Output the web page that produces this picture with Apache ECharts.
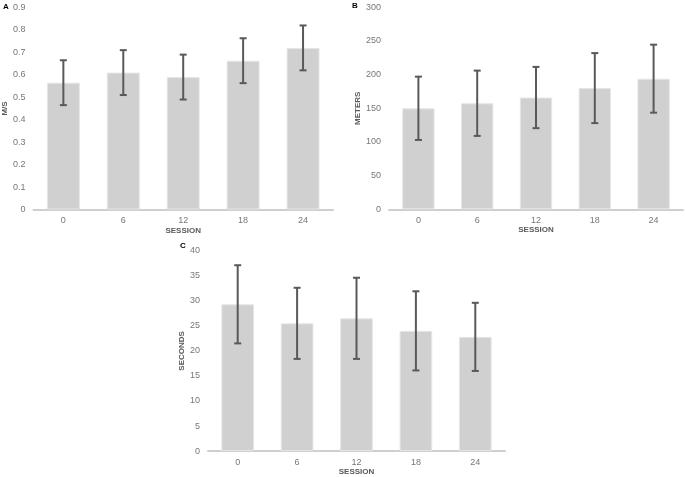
<!DOCTYPE html>
<html><head><meta charset="utf-8">
<script src="https://cdn.jsdelivr.net/npm/echarts@6/dist/echarts.min.js"></script>
<style>html,body{margin:0;padding:0;background:#fff}#c{width:685px;height:477px}</style>
</head><body><div id="c"></div>
<script>
var sessions = ['0', '6', '12', '18', '24'];
var speedMean = [0.565, 0.61, 0.59, 0.663, 0.72];
var speedErr = [0.1, 0.1, 0.1, 0.1, 0.1];
var distMean = [150, 157.5, 166, 180, 194];
var distErr = [47, 48.5, 45.5, 52, 50.5];
var timeMean = [29.3, 25.5, 26.5, 24, 22.8];
var timeErr = [7.8, 7.1, 8.1, 7.9, 6.8];

var font = 'Liberation Sans, Arial, sans-serif';
var panels = [
  {letter: 'A', yName: 'M/S', mean: speedMean, err: speedErr, max: 0.9, interval: 0.1,
   grid: {left: 33, top: 7.5, width: 300, height: 202}, nameGap: 24, lx: 3, ly: 3},
  {letter: 'B', yName: 'METERS', mean: distMean, err: distErr, max: 300, interval: 50,
   grid: {left: 389, top: 7.3, width: 294, height: 202}, nameGap: 26, lx: 352, ly: 2},
  {letter: 'C', yName: 'SECONDS', mean: timeMean, err: timeErr, max: 40, interval: 5,
   grid: {left: 208, top: 250.7, width: 297, height: 201.6}, nameGap: 21, lx: 180, ly: 242}
];

var grids = [], xAxes = [], yAxes = [], series = [], graphics = [];
panels.forEach(function (p, i) {
  grids.push(p.grid);
  xAxes.push({
    type: 'category', gridIndex: i, data: sessions,
    axisLine: {lineStyle: {color: '#cfcfcf', width: 2}},
    axisTick: {show: false},
    axisLabel: {color: '#777777', fontSize: 9, fontFamily: font, margin: 7},
    name: 'SESSION', nameLocation: 'middle', nameGap: 15,
    nameTextStyle: {color: '#595959', fontSize: 8, fontWeight: 'bold', fontFamily: font}
  });
  yAxes.push({
    type: 'value', gridIndex: i, min: 0, max: p.max, interval: p.interval,
    axisLine: {show: false}, axisTick: {show: false}, splitLine: {show: false},
    axisLabel: {color: '#777777', fontSize: 9, fontFamily: font, margin: 8},
    name: p.yName, nameLocation: 'middle', nameGap: p.nameGap, nameRotate: 90,
    nameTextStyle: {color: '#595959', fontSize: 8, fontWeight: 'bold', fontFamily: font}
  });
  series.push({
    type: 'bar', xAxisIndex: i, yAxisIndex: i, data: p.mean, barWidth: '55%',
    itemStyle: {color: '#d0d0d0', borderColor: '#e6e6e6', borderWidth: 1},
    silent: true
  });
  var errData = p.mean.map(function (m, k) { return [k, m - p.err[k], m + p.err[k]]; });
  series.push({
    type: 'custom', xAxisIndex: i, yAxisIndex: i, data: errData, z: 10, silent: true,
    renderItem: function (params, api) {
      var lo = api.coord([api.value(0), api.value(1)]);
      var hi = api.coord([api.value(0), api.value(2)]);
      var hw = 3.5;
      var st = {stroke: '#595959', lineWidth: 2};
      return {type: 'group', children: [
        {type: 'line', shape: {x1: lo[0], y1: lo[1], x2: hi[0], y2: hi[1]}, style: st},
        {type: 'line', shape: {x1: hi[0] - hw, y1: hi[1], x2: hi[0] + hw, y2: hi[1]}, style: st},
        {type: 'line', shape: {x1: lo[0] - hw, y1: lo[1], x2: lo[0] + hw, y2: lo[1]}, style: st}
      ]};
    }
  });
  graphics.push({type: 'text', left: p.lx, top: p.ly,
    style: {text: p.letter, font: 'bold 8px ' + font, fill: '#000'}});
});

var chart = echarts.init(document.getElementById('c'));
chart.setOption({
  animation: false,
  grid: grids, xAxis: xAxes, yAxis: yAxes, series: series, graphic: graphics
});
</script></body></html>
